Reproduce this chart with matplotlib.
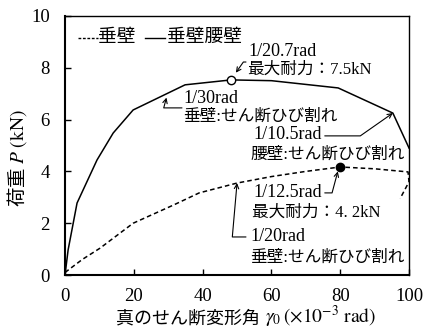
import matplotlib
matplotlib.use("Agg")
import matplotlib.pyplot as plt

# 垂壁腰壁 (solid)
gamma_ww = [0, 0.9, 3.5, 9.3, 14, 19.8, 34.9, 48.3, 60, 79.4, 95.3, 100]
load_ww = [0, 0.97, 2.78, 4.44, 5.48, 6.37, 7.34, 7.53, 7.5, 7.22, 6.25, 4.9]

# 垂壁 (dashed)
gamma_w = [0, 5, 10.2, 19.8, 31.5, 39, 50, 60, 70, 80, 90, 99.7, 100, 97.4]
load_w = [0.1, 0.6, 1.04, 2.0, 2.7, 3.17, 3.55, 3.8, 4.0, 4.17, 4.1, 3.98, 3.6, 2.95]

# peaks
peak_ww = (48.3, 7.53)
peak_w = (80, 4.17)

FONT = ["Liberation Serif", "Noto Sans CJK JP"]
JP = "Noto Sans CJK JP"
plt.rcParams["font.family"] = FONT
plt.rcParams["mathtext.fontset"] = "stix"

fig = plt.figure(figsize=(4.23, 3.31), dpi=100)
ax = fig.add_axes([0.1537, 0.169, 0.967 - 0.1537, 0.952 - 0.169])

ax.plot(gamma_w, load_w, "--", color="black", lw=1.1, dashes=(3, 2))
ax.plot(gamma_ww, load_ww, "-", color="black", lw=1.1)
ax.plot(*peak_ww, "o", ms=6, mfc="white", mec="black", mew=1.0, zorder=5)
ax.plot(*peak_w, "o", ms=6, mfc="black", mec="black", zorder=5)

ax.set_xlim(0, 100)
ax.set_ylim(0, 10)
ax.set_xticks([0, 20, 40, 60, 80, 100])
ax.set_yticks([0, 2, 4, 6, 8, 10])
ax.tick_params(direction="in", labelsize=13.5, length=4, width=1)
ax.tick_params(axis="x", pad=9)
ax.tick_params(axis="y", pad=11)
for s in ax.spines.values():
    s.set_linewidth(1.0)
ax.spines["left"].set_linewidth(1.5)
ax.spines["bottom"].set_linewidth(1.5)

# axis labels (CJK and math parts split so each gets its own font)
ax.text(0.567, -0.167, "真のせん断変形角", transform=ax.transAxes,
        family=JP, fontsize=13, ha="right", va="center")
ax.text(0.581, -0.162, r"$\gamma_0\,(\times 10^{-3}\ \mathrm{rad})$",
        transform=ax.transAxes, fontsize=14, ha="left", va="center")
ax.text(-0.14, 0.45, r"荷重 $P\ (\mathrm{kN})$", transform=ax.transAxes,
        family=JP, fontsize=14, ha="center", va="center", rotation=90)

# legend drawn by hand
ax.plot([3.8, 9.5], [9.15, 9.15], "--", color="black", lw=1.0, dashes=(2, 1.2))
ax.text(9.5, 9.15, "垂壁", fontsize=13.5, va="center")
ax.plot([23.3, 29], [9.15, 9.15], "-", color="black", lw=1.0)
ax.text(29.5, 9.15, "垂壁腰壁", fontsize=13.5, va="center")

fs = 13
fj = 12
arrow = dict(arrowstyle="->", lw=0.8, color="black", shrinkA=0, shrinkB=2,
             mutation_scale=8)

# 1/20.7rad
ax.text(53.2, 8.61, "1/20.7rad", fontsize=fs, va="center")
ax.text(52.9, 7.92, "最大耐力：7.5kN", fontsize=fj, va="center")
ax.annotate("", xy=(49.2, 7.72), xytext=(52.6, 8.22),
            arrowprops=dict(arrow, connectionstyle="angle,angleA=0,angleB=55,rad=0"))

# 1/30rad
ax.text(34.3, 6.83, "1/30rad", fontsize=fs, va="center")
ax.text(34.3, 6.10, "垂壁:せん断ひび割れ", fontsize=fj, va="center")
ax.annotate("", xy=(29.7, 6.95), xytext=(34.0, 6.45),
            arrowprops=dict(arrow, connectionstyle="angle,angleA=0,angleB=75,rad=0"))

# 1/10.5rad
ax.text(54.7, 5.41, "1/10.5rad", fontsize=fs, va="center")
ax.text(53.8, 4.63, "腰壁:せん断ひび割れ", fontsize=fj, va="center")
ax.annotate("", xy=(95.3, 6.25), xytext=(75.5, 5.37),
            arrowprops=dict(arrow, shrinkB=0,
                            connectionstyle="angle,angleA=0,angleB=35,rad=0"))

# 1/12.5rad
ax.text(54.7, 3.17, "1/12.5rad", fontsize=fs, va="center")
ax.text(54.4, 2.39, "最大耐力：4. 2kN", fontsize=fj, va="center")
ax.annotate("", xy=(79.3, 4.0), xytext=(75.5, 3.17),
            arrowprops=dict(arrow, shrinkB=0,
                            connectionstyle="angle,angleA=0,angleB=75,rad=0"))

# 1/20rad
ax.text(53.8, 1.47, "1/20rad", fontsize=fs, va="center")
ax.text(53.8, 0.66, "垂壁:せん断ひび割れ", fontsize=fj, va="center")
ax.annotate("", xy=(50.0, 3.55), xytext=(52.6, 1.47),
            arrowprops=dict(arrow, shrinkB=0,
                            connectionstyle="angle,angleA=0,angleB=85,rad=0"))

fig.savefig("out.png", dpi=100)
